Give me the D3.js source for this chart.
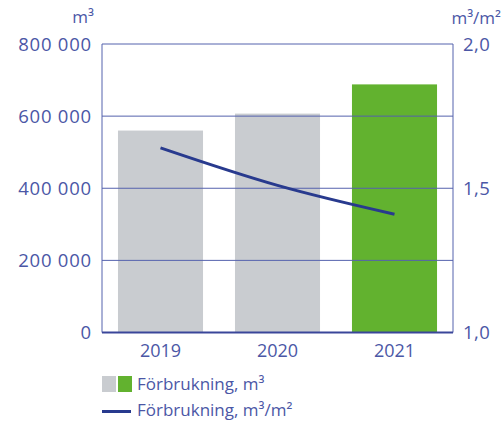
<!DOCTYPE html>
<html><head><meta charset="utf-8">
<script src="https://cdn.jsdelivr.net/npm/d3@7"></script>
<style>body{margin:0;background:#fff}svg text{font-family:"Open Sans",sans-serif;font-weight:400;fill:#4b57a6}</style>
</head><body><svg id="c" width="502" height="423"></svg>
<script>
const years = ["2019","2020","2021"];
const volume = [560000, 607000, 688000];
const perArea = [1.64, 1.51, 1.41];
const barColors = ["#c9ccd0","#c9ccd0","#62b22f"];
const leftTicks = [0,200000,400000,600000,800000];
const rightTicks = [1.0,1.5,2.0];
const legendLabels = ["Förbrukning, m³","Förbrukning, m³/m²"];

const svg = d3.select("#c");
const L=102, R=453, T=44, B=332.5;
const x = d3.scaleBand().domain(years).range([L,R]).paddingInner(0.273).paddingOuter(0.1365);
const y = d3.scaleLinear().domain([0,800000]).range([B,T]);
const y2 = d3.scaleLinear().domain([1,2]).range([B,T]);
const axisCol="#5562ad";

svg.selectAll("rect.bar").data(years).join("rect").attr("class","bar")
  .attr("x",d=>x(d)).attr("width",x.bandwidth())
  .attr("y",(d,i)=>y(volume[i])).attr("height",(d,i)=>B-y(volume[i]))
  .attr("fill",(d,i)=>barColors[i]);

svg.selectAll("line.grid").data(leftTicks.slice(1)).join("line")
  .attr("x1",L).attr("x2",R).attr("y1",d=>y(d)).attr("y2",d=>y(d))
  .attr("stroke",axisCol).attr("stroke-width",1);
svg.append("line").attr("x1",L).attr("x2",L).attr("y1",T).attr("y2",B).attr("stroke",axisCol);
svg.append("line").attr("x1",R).attr("x2",R).attr("y1",T).attr("y2",B).attr("stroke",axisCol);
svg.append("line").attr("x1",L).attr("x2",R).attr("y1",B).attr("y2",B).attr("stroke","#3a469a").attr("stroke-width",2);

const fmt = v => v===0 ? "0" : d3.format(",")(v).replace(/,/g," ");
svg.selectAll("text.lt").data(leftTicks).join("text")
  .attr("x",92).attr("y",d=>y(d)+6.5).attr("text-anchor","end").attr("font-size",18.5)
  .attr("letter-spacing",0.8).text(fmt);
svg.selectAll("text.rt").data(rightTicks).join("text")
  .attr("x",463).attr("y",d=>y2(d)+6.5).attr("font-size",18.5).attr("letter-spacing",0.5).text(d=>d.toFixed(1).replace(".",","));
svg.selectAll("text.xt").data(years).join("text")
  .attr("x",d=>x(d)+x.bandwidth()/2).attr("y",357).attr("text-anchor","middle").attr("font-size",18).text(d=>d);

svg.append("text").attr("x",94).attr("y",23).attr("text-anchor","end").attr("font-size",17).text("m³");
svg.append("text").attr("x",501).attr("y",24).attr("text-anchor","end").attr("font-size",17).text("m³/m²");

const line = d3.line().x((d,i)=>x(years[i])+x.bandwidth()/2).y(d=>y2(d)).curve(d3.curveMonotoneX);
svg.append("path").datum(perArea).attr("d",line).attr("fill","none").attr("stroke","#283a8e").attr("stroke-width",3);

svg.append("rect").attr("x",102).attr("y",376).attr("width",14).attr("height",16).attr("fill","#c9ccd0");
svg.append("rect").attr("x",118).attr("y",376).attr("width",14).attr("height",16).attr("fill","#62b22f");
svg.append("text").attr("x",137).attr("y",390).attr("font-size",17).text(legendLabels[0]);
svg.append("line").attr("x1",102).attr("x2",131).attr("y1",411.5).attr("y2",411.5).attr("stroke","#283a8e").attr("stroke-width",3);
svg.append("text").attr("x",137).attr("y",416).attr("font-size",17).text(legendLabels[1]);
</script></body></html>
